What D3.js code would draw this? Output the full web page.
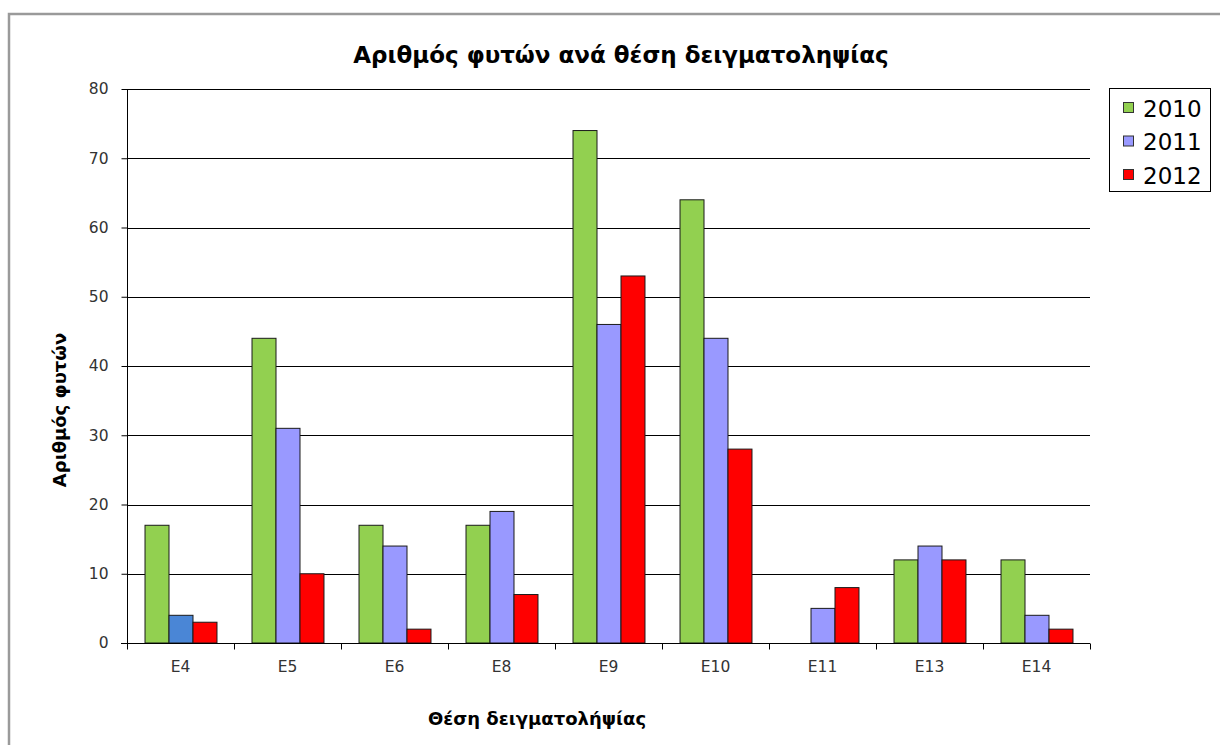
<!DOCTYPE html>
<html>
<head>
<meta charset="utf-8">
<script src="https://cdn.jsdelivr.net/npm/d3@7"></script>
<style>
  html, body { margin: 0; padding: 0; background: #fff; }
  svg { display: block; }
</style>
</head>
<body>
<svg id="chart" width="1220" height="745"></svg>
<script>
// Sampling sites and yearly plant counts
const sites = ["E4", "E5", "E6", "E8", "E9", "E10", "E11", "E13", "E14"];
const years = ["2010", "2011", "2012"];
const values2010 = [17, 44, 17, 17, 74, 64, 0, 12, 12];
const values2011 = [4, 31, 14, 19, 46, 44, 5, 14, 4];
const values2012 = [3, 10, 2, 7, 53, 28, 8, 12, 2];
const yTicks = [0, 10, 20, 30, 40, 50, 60, 70, 80];

const title = "Αριθμός φυτών ανά θέση δειγματοληψίας";
const yTitle = "Αριθμός φυτών";
const xTitle = "Θέση δειγματολήψίας";

const seriesColors = { "2010": "#92d050", "2011": "#9999ff", "2012": "#ff0000" };
// single highlighted bar (E4, 2011)
const highlight = { site: "E4", year: "2011", color: "#4a86d6" };

const seriesValues = { "2010": values2010, "2011": values2011, "2012": values2012 };
const rows = sites.map((s, i) => ({ site: s, vals: years.map(y => ({ year: y, value: seriesValues[y][i] })) }));

const FONT = "'DejaVu Sans', Verdana, sans-serif";
const svg = d3.select("#chart");
const W = 1220, H = 745;
const plot = { left: 127, right: 1090, top: 89, bottom: 643 };

// outer frame
svg.append("rect")
  .attr("x", 9).attr("y", 14)
  .attr("width", W + 10).attr("height", H + 10)
  .attr("fill", "#fff")
  .attr("stroke", "#9a9a9a").attr("stroke-width", 2.5);

const x0 = d3.scaleBand().domain(sites).range([plot.left, plot.right]).padding(0);
const x1 = d3.scaleBand().domain(years).range([0, x0.bandwidth()]).paddingInner(0).paddingOuter(0.73);
const y = d3.scaleLinear().domain([0, 80]).range([plot.bottom, plot.top]);

// gridlines
svg.append("g")
  .selectAll("line")
  .data(yTicks.filter(t => t > 0))
  .join("line")
  .attr("x1", plot.left).attr("x2", plot.right)
  .attr("y1", d => Math.round(y(d)) + 0.5).attr("y2", d => Math.round(y(d)) + 0.5)
  .attr("stroke", "#000").attr("stroke-width", 1);

// bars
const groups = svg.append("g")
  .selectAll("g")
  .data(rows)
  .join("g")
  .attr("transform", d => `translate(${x0(d.site)},0)`);

groups.selectAll("rect")
  .data(d => d.vals.filter(v => v.value > 0).map(v => ({ ...v, site: d.site })))
  .join("rect")
  .attr("x", d => x1(d.year) + 0.5)
  .attr("y", d => y(d.value))
  .attr("width", x1.bandwidth())
  .attr("height", d => y(0) - y(d.value))
  .attr("fill", d => (d.site === highlight.site && d.year === highlight.year) ? highlight.color : seriesColors[d.year])
  .attr("stroke", "#1a1a1a").attr("stroke-width", 1);

// y axis
const yAxis = d3.axisLeft(y).tickValues(yTicks).tickSize(6).tickPadding(13).tickFormat(d3.format("d"));
const gy = svg.append("g").attr("transform", `translate(${plot.left + 0.5},0)`).call(yAxis);
gy.attr("font-family", null).attr("font-size", null);
gy.select(".domain").attr("stroke", "#000").attr("d", `M0,${plot.top}V${plot.bottom}`);
gy.selectAll(".tick line").attr("stroke", "#000");
gy.selectAll(".tick text")
  .attr("fill", "#333")
  .style("font-family", FONT)
  .style("font-size", "15.5px");

// x axis baseline and category separators
const gx = svg.append("g").attr("transform", `translate(0,${plot.bottom + 0.5})`);
gx.append("line").attr("x1", plot.left - 6).attr("x2", plot.right).attr("y1", 0).attr("y2", 0).attr("stroke", "#000");
const edges = sites.map(s => x0(s)).concat([plot.right]);
gx.selectAll("line.sep")
  .data(edges)
  .join("line").attr("class", "sep")
  .attr("x1", d => Math.round(d) + 0.5).attr("x2", d => Math.round(d) + 0.5)
  .attr("y1", 0).attr("y2", 6)
  .attr("stroke", "#000");
gx.selectAll("text")
  .data(sites)
  .join("text")
  .attr("x", d => x0(d) + x0.bandwidth() / 2)
  .attr("y", 28)
  .attr("text-anchor", "middle")
  .attr("fill", "#333")
  .style("font-family", FONT)
  .style("font-size", "15.5px")
  .text(d => d);

// titles
svg.append("text")
  .attr("x", 621).attr("y", 63)
  .attr("text-anchor", "middle")
  .style("font-family", FONT)
  .style("font-weight", "bold")
  .style("font-size", "23px")
  .attr("fill", "#000")
  .text(title);

svg.append("text")
  .attr("transform", `translate(66,410) rotate(-90)`)
  .attr("text-anchor", "middle")
  .style("font-family", FONT)
  .style("font-weight", "bold")
  .style("font-size", "18px")
  .attr("fill", "#000")
  .text(yTitle);

svg.append("text")
  .attr("x", 537).attr("y", 725)
  .attr("text-anchor", "middle")
  .style("font-family", FONT)
  .style("font-weight", "bold")
  .style("font-size", "18px")
  .attr("fill", "#000")
  .text(xTitle);

// legend
const legend = svg.append("g").attr("transform", "translate(1109,88)");
legend.append("rect")
  .attr("x", 0.5).attr("y", 0.5).attr("width", 101).attr("height", 103)
  .attr("fill", "#fff").attr("stroke", "#000").attr("stroke-width", 1);
const items = legend.selectAll("g.item")
  .data(years)
  .join("g").attr("class", "item")
  .attr("transform", (d, i) => `translate(14,${20 + i * 33.5})`);
items.append("rect")
  .attr("x", 0.5).attr("y", -5.5).attr("width", 10).attr("height", 10)
  .attr("fill", d => seriesColors[d]).attr("stroke", "#333");
items.append("text")
  .attr("x", 20).attr("y", 8.5)
  .style("font-family", FONT)
  .style("font-size", "23px")
  .attr("fill", "#000")
  .text(d => d);
</script>
</body>
</html>
